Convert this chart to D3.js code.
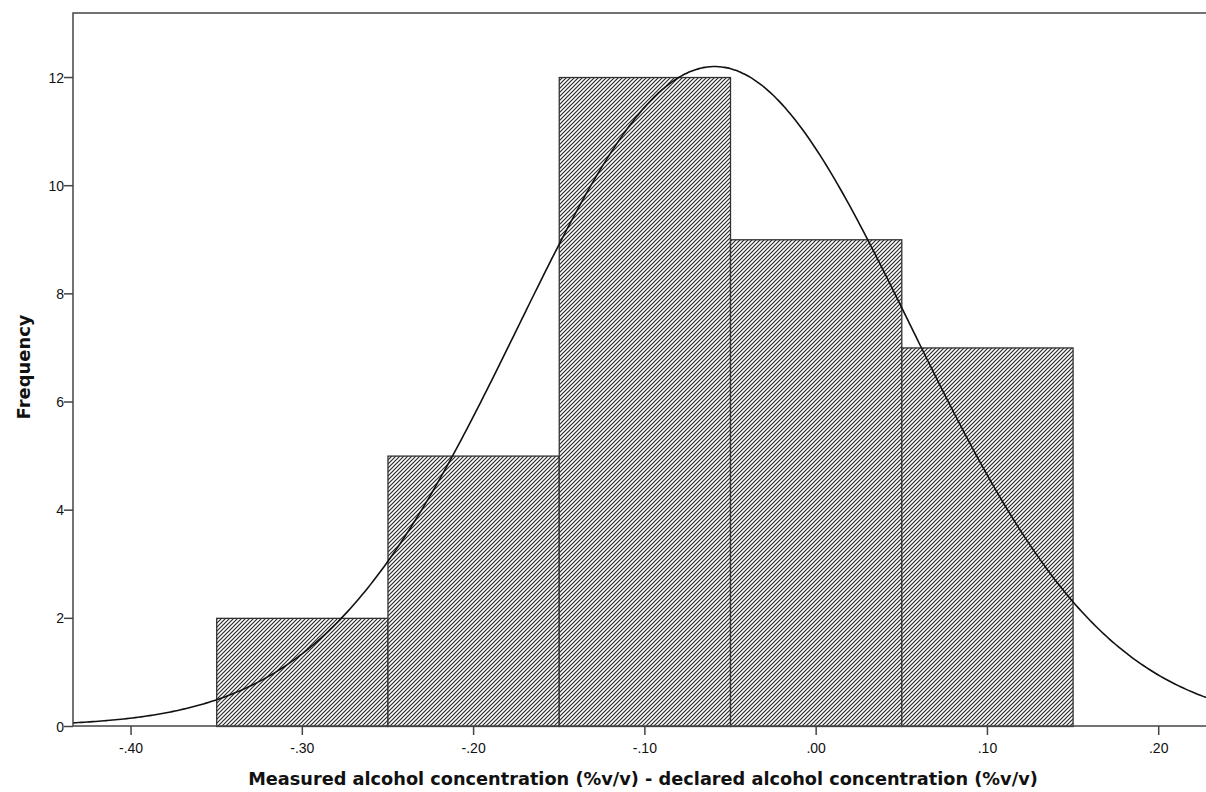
<!DOCTYPE html>
<html><head><meta charset="utf-8">
<script src="https://cdn.jsdelivr.net/npm/d3@7"></script>
<style>body{margin:0;background:#fff}svg{display:block}.tk text{font-family:'Liberation Sans',Arial,sans-serif;font-size:14px;fill:#111}</style>
</head><body>
<svg id="c" width="1206" height="792"></svg>
<script>
const binStarts = [-0.35, -0.25, -0.15, -0.05, 0.05];
const binEnds = [-0.25, -0.15, -0.05, 0.05, 0.15];
const frequencies = [2, 5, 12, 9, 7];
const xTicks = [-0.40, -0.30, -0.20, -0.10, 0.00, 0.10, 0.20];
const xTickLabels = ["-.40", "-.30", "-.20", "-.10", ".00", ".10", ".20"];
const yTicks = [0, 2, 4, 6, 8, 10, 12];
const normalMean = -0.059;
const normalSD = 0.1145;
const totalN = 35;
const binWidth = 0.1;

const svg = d3.select("#c");
const L = 73, R = 1206, T = 13, B = 726;
const x = d3.scaleLinear().domain([-0.4336, 0.2279]).range([L, R]);
const y = d3.scaleLinear().domain([0, 13.184]).range([B, T]);

const defs = svg.append("defs");
const pat = defs.append("pattern").attr("id", "hatch").attr("patternUnits", "userSpaceOnUse")
  .attr("width", 4).attr("height", 4);
pat.append("rect").attr("width", 4).attr("height", 4).attr("fill", "#fff");
pat.append("path").attr("d", "M-1,1 l2,-2 M0,4 l4,-4 M3,5 l2,-2").attr("stroke", "#2a2a2a").attr("stroke-width", 1.2);
defs.append("clipPath").attr("id", "clip").append("rect").attr("x", L).attr("y", T).attr("width", R - L).attr("height", B - T);

const bars = binStarts.map((s, i) => ({s, e: binEnds[i], f: frequencies[i]}));
svg.append("g").selectAll("rect").data(bars).join("rect")
  .attr("x", d => x(d.s) + 0.5).attr("y", d => y(d.f) + 0.5)
  .attr("width", d => x(d.e) - x(d.s)).attr("height", d => y(0) - y(d.f))
  .attr("fill", "url(#hatch)").attr("stroke", "#333").attr("stroke-width", 1.3);

// normal curve overlay
const pts = d3.range(0, 401).map(i => {
  const v = -0.4336 + i * (0.2279 + 0.4336) / 400;
  const z = (v - normalMean) / normalSD;
  return [v, totalN * binWidth / (normalSD * Math.sqrt(2 * Math.PI)) * Math.exp(-0.5 * z * z)];
});
svg.append("path").datum(pts).attr("clip-path", "url(#clip)")
  .attr("d", d3.line().x(d => x(d[0])).y(d => y(d[1])).curve(d3.curveBasis))
  .attr("fill", "none").attr("stroke", "#111").attr("stroke-width", 1.6);

// frame
svg.append("path").attr("d", `M${L},${B} V${T} H${R}`).attr("fill", "none").attr("stroke", "#444").attr("stroke-width", 1.5);
svg.append("line").attr("x1", L).attr("x2", R).attr("y1", B).attr("y2", B).attr("stroke", "#444").attr("stroke-width", 1.5);

const boldFont = "'DejaVu Sans', Verdana, sans-serif";
const xAxis = d3.axisBottom(x).tickValues(xTicks).tickFormat((d, i) => xTickLabels[i]).tickSize(9).tickSizeOuter(0);
const gx = svg.append("g").attr("class", "tk").attr("transform", `translate(0,${B})`).call(xAxis);
gx.select(".domain").remove();
gx.selectAll("line").attr("stroke", "#444").attr("stroke-width", 1.5);
gx.selectAll("text").attr("y", 27).attr("dy", 0);

const yAxis = d3.axisLeft(y).tickValues(yTicks).tickSize(9).tickSizeOuter(0);
const gy = svg.append("g").attr("class", "tk").attr("transform", `translate(${L},0)`).call(yAxis);
gy.select(".domain").remove();
gy.selectAll("line").attr("stroke", "#444").attr("stroke-width", 1.5);
gy.selectAll("text").attr("x", -9).attr("dy", "0.36em");

function fit(sel, target) {
  const len = sel.node().getComputedTextLength();
  const fs = +sel.attr("font-size");
  sel.attr("font-size", fs * target / len);
}
const xt = svg.append("text").attr("x", 643).attr("y", 785).attr("text-anchor", "middle")
  .attr("font-family", boldFont).attr("font-size", 16).attr("font-weight", "bold").attr("fill", "#111")
  .text("Measured alcohol concentration (%v/v) - declared alcohol concentration (%v/v)");
fit(xt, 790);
const yt = svg.append("text").attr("transform", "translate(30,367) rotate(-90)").attr("text-anchor", "middle")
  .attr("font-family", boldFont).attr("font-size", 16).attr("font-weight", "bold").attr("fill", "#111")
  .text("Frequency");
fit(yt, 105);
</script>
</body></html>
